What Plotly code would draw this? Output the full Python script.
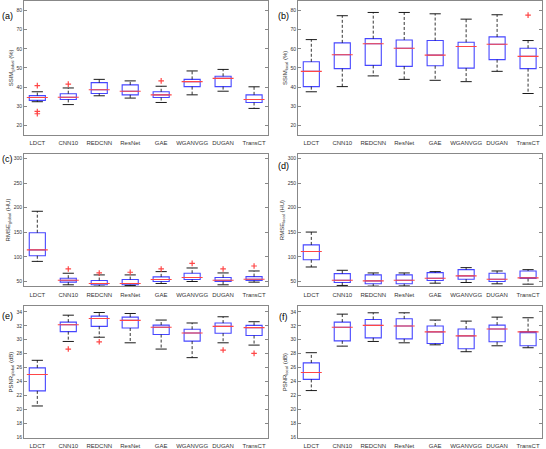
import plotly.graph_objects as go

categories = ["LDCT", "CNN10", "REDCNN", "ResNet", "GAE", "WGANVGG", "DUGAN", "TransCT"]

# Panel (a) SSIM global (%)
ssim_g_lo  = [32.3, 30.8, 35.4, 34.2, 31.9, 35.9, 37.8, 28.8]
ssim_g_q1  = [33.0, 33.5, 36.6, 35.9, 34.5, 40.2, 40.2, 31.9]
ssim_g_med = [34.5, 34.6, 38.6, 37.8, 35.9, 42.8, 44.5, 33.5]
ssim_g_q3  = [35.5, 36.5, 42.3, 41.1, 37.5, 44.0, 45.6, 35.9]
ssim_g_hi  = [37.5, 39.5, 44.0, 43.2, 40.4, 48.4, 49.2, 40.1]
ssim_g_out = [[40.7, 27.2, 26.0], [41.5], [], [], [43.2], [], [], []]

# Panel (b) SSIM local (%)
ssim_l_lo  = [37.5, 40.2, 45.8, 44.0, 43.5, 42.8, 48.2, 36.6]
ssim_l_q1  = [40.2, 49.6, 51.3, 50.8, 51.1, 49.9, 54.3, 49.6]
ssim_l_med = [48.2, 56.9, 62.6, 60.3, 56.7, 61.2, 62.4, 56.0]
ssim_l_q3  = [53.2, 63.1, 65.3, 64.6, 64.3, 63.4, 66.2, 60.3]
ssim_l_hi  = [64.8, 77.3, 79.0, 79.0, 78.3, 75.5, 77.8, 64.3]
ssim_l_out = [[], [], [], [], [], [], [], [77.6]]

# Panel (c) RMSE global (HU)
rmse_g_lo  = [90.9, 43.3, 40.6, 42.0, 46.0, 50.0, 43.3, 48.7]
rmse_g_q1  = [102.3, 48.7, 43.3, 43.3, 50.0, 54.0, 50.0, 52.0]
rmse_g_med = [114.3, 52.7, 46.0, 46.0, 54.0, 58.0, 52.7, 54.7]
rmse_g_q3  = [149.2, 56.7, 52.0, 54.0, 59.4, 66.8, 58.0, 60.0]
rmse_g_hi  = [192.8, 66.8, 63.4, 63.4, 70.1, 77.5, 67.4, 71.4]
rmse_g_out = [[], [75.5], [67.4], [68.8], [75.5], [86.9], [75.5], [81.5]]

# Panel (d) RMSE local (HU)
rmse_l_lo  = [79.5, 42.0, 40.6, 41.0, 46.6, 48.0, 45.3, 44.6]
rmse_l_q1  = [94.2, 48.0, 45.3, 45.3, 52.0, 54.7, 50.0, 56.0]
rmse_l_med = [111.0, 52.7, 51.3, 52.7, 56.7, 61.4, 54.7, 57.4]
rmse_l_q3  = [124.4, 66.1, 63.4, 63.4, 68.1, 74.1, 66.8, 71.4]
rmse_l_hi  = [150.5, 72.8, 67.4, 67.4, 70.1, 78.2, 71.4, 74.1]
rmse_l_out = [[], [], [], [], [], [], [], []]

# Panel (e) PSNR global (dB)
psnr_g_lo  = [20.5, 29.75, 30.36, 29.56, 28.66, 27.43, 29.56, 29.23]
psnr_g_q1  = [22.66, 31.16, 31.92, 31.68, 30.74, 29.8, 30.93, 30.6]
psnr_g_med = [25.02, 32.15, 33.05, 32.77, 31.78, 30.97, 31.92, 31.73]
psnr_g_q3  = [25.97, 32.53, 33.38, 33.24, 32.1, 31.5, 32.39, 32.06]
psnr_g_hi  = [27.05, 33.52, 33.9, 33.76, 32.82, 32.4, 33.29, 32.58]
psnr_g_out = [[], [28.66], [29.7], [], [], [], [28.52], [28.05]]

# Panel (f) PSNR local (dB)
psnr_l_lo  = [22.71, 29.08, 29.75, 29.56, 29.27, 28.28, 29.13, 28.85]
psnr_l_q1  = [24.31, 29.84, 30.27, 30.12, 29.46, 28.7, 29.7, 29.13]
psnr_l_med = [25.3, 31.78, 32.06, 31.97, 31.12, 30.55, 31.54, 31.12]
psnr_l_q3  = [26.68, 32.53, 32.91, 33.0, 31.97, 31.54, 32.1, 31.16]
psnr_l_hi  = [28.14, 33.67, 33.86, 33.86, 32.82, 32.67, 33.24, 33.15]
psnr_l_out = [[], [], [], [], [], [], [], []]

panel_labels = ["(a)", "(b)", "(c)", "(d)", "(e)", "(f)"]
y_titles = ["SSIM<sub>global</sub> (%)", "SSIM<sub>local</sub> (%)",
            "RMSE<sub>global</sub> (HU)", "RMSE<sub>local</sub> (HU)",
            "PSNR<sub>global</sub> (dB)", "PSNR<sub>local</sub> (dB)"]

panels = [
    (ssim_g_lo, ssim_g_q1, ssim_g_med, ssim_g_q3, ssim_g_hi, ssim_g_out),
    (ssim_l_lo, ssim_l_q1, ssim_l_med, ssim_l_q3, ssim_l_hi, ssim_l_out),
    (rmse_g_lo, rmse_g_q1, rmse_g_med, rmse_g_q3, rmse_g_hi, rmse_g_out),
    (rmse_l_lo, rmse_l_q1, rmse_l_med, rmse_l_q3, rmse_l_hi, rmse_l_out),
    (psnr_g_lo, psnr_g_q1, psnr_g_med, psnr_g_q3, psnr_g_hi, psnr_g_out),
    (psnr_l_lo, psnr_l_q1, psnr_l_med, psnr_l_q3, psnr_l_hi, psnr_l_out),
]

W, H = 546, 449
x_doms = [[24 / W, 268 / W], [298 / W, 542 / W]]
y_doms = [[1 - 136 / H, 1 - 1 / H], [1 - 289 / H, 1 - 155 / H], [1 - 442 / H, 1 - 309 / H]]
y_ranges = [[15, 85], [15, 85], [40, 310], [40, 310], [15.9, 34.8], [15.9, 34.8]]
y_ticks = [list(range(20, 81, 10))] * 2 + [list(range(50, 301, 50))] * 2 + [list(range(16, 35, 2))] * 2
# left edge x, vertical centre y (pixels)
label_pos = [(0, 16), (276, 16), (0, 160), (276, 167), (0, 319), (277, 320)]

BLUE = "rgb(70,70,255)"
RED = "rgb(255,70,70)"
FONT = "Liberation Sans, Arial, sans-serif"

fig = go.Figure()
layout = dict(width=W, height=H, margin=dict(l=0, r=0, t=0, b=0),
              paper_bgcolor="white", plot_bgcolor="white", showlegend=False,
              font=dict(family=FONT, size=6, color="#333"))
annotations = []

for i, (lo, q1, med, q3, hi, outs) in enumerate(panels):
    n = i + 1
    xa = "x" if n == 1 else f"x{n}"
    ya = "y" if n == 1 else f"y{n}"
    row, col = i // 2, i % 2

    # box body (no whiskers; whiskers drawn dashed below)
    fig.add_trace(go.Box(x=categories, q1=q1, median=med, q3=q3,
                         lowerfence=q1, upperfence=q3, width=0.52,
                         line=dict(color=BLUE, width=1.1), fillcolor="rgba(0,0,0,0)",
                         boxpoints=False, xaxis=xa, yaxis=ya, hoverinfo="skip"))
    # dashed whiskers
    wx, wy = [], []
    for c, a, b, c3, d in zip(categories, lo, q1, q3, hi):
        wx += [c, c, None, c, c, None]
        wy += [c3, d, None, b, a, None]
    fig.add_trace(go.Scatter(x=wx, y=wy, mode="lines", connectgaps=False,
                             line=dict(color="black", width=0.8, dash="3px,2px"),
                             xaxis=xa, yaxis=ya, hoverinfo="skip"))
    # whisker caps
    fig.add_trace(go.Scatter(x=categories + categories, y=lo + hi, mode="markers",
                             marker=dict(symbol="line-ew", size=8,
                                         line=dict(color="black", width=0.9)),
                             xaxis=xa, yaxis=ya, hoverinfo="skip"))
    # red medians
    fig.add_trace(go.Scatter(x=categories, y=med, mode="markers",
                             marker=dict(symbol="line-ew", size=15,
                                         line=dict(color=RED, width=1.1)),
                             xaxis=xa, yaxis=ya, hoverinfo="skip"))
    # outliers
    ox, oy = [], []
    for c, o in zip(categories, outs):
        for v in o:
            ox.append(c)
            oy.append(v)
    if ox:
        fig.add_trace(go.Scatter(x=ox, y=oy, mode="markers",
                                 marker=dict(symbol="cross-thin", size=4,
                                             line=dict(color=RED, width=1.2)),
                                 xaxis=xa, yaxis=ya, hoverinfo="skip"))

    layout["xaxis" if n == 1 else f"xaxis{n}"] = dict(
        domain=x_doms[col], anchor=ya, type="category",
        categoryorder="array", categoryarray=categories,
        range=[-0.43, 7.45], showline=True, mirror=True, linecolor="#888",
        linewidth=1, ticks="", showgrid=False, zeroline=False,
        tickfont=dict(size=6, color="#333"), ticklabelstandoff=2)
    layout["yaxis" if n == 1 else f"yaxis{n}"] = dict(
        domain=y_doms[row], anchor=xa, range=y_ranges[i],
        tickvals=y_ticks[i], showline=True, mirror="ticks", linecolor="#888",
        linewidth=1, ticks="inside", ticklen=3, tickcolor="#888",
        showgrid=False, zeroline=False,
        tickfont=dict(size=5, color="#333"),
        title=dict(text=y_titles[i], font=dict(size=6, color="#333"), standoff=2))
    lx, ly = label_pos[i]
    annotations.append(dict(text=panel_labels[i], x=lx / W, y=1 - ly / H,
                            xref="paper", yref="paper", xanchor="left", yanchor="middle",
                            showarrow=False,
                            font=dict(size=9, color="black", family=FONT)))

layout["annotations"] = annotations
fig.update_layout(**layout)
fig.write_html("out.html")
